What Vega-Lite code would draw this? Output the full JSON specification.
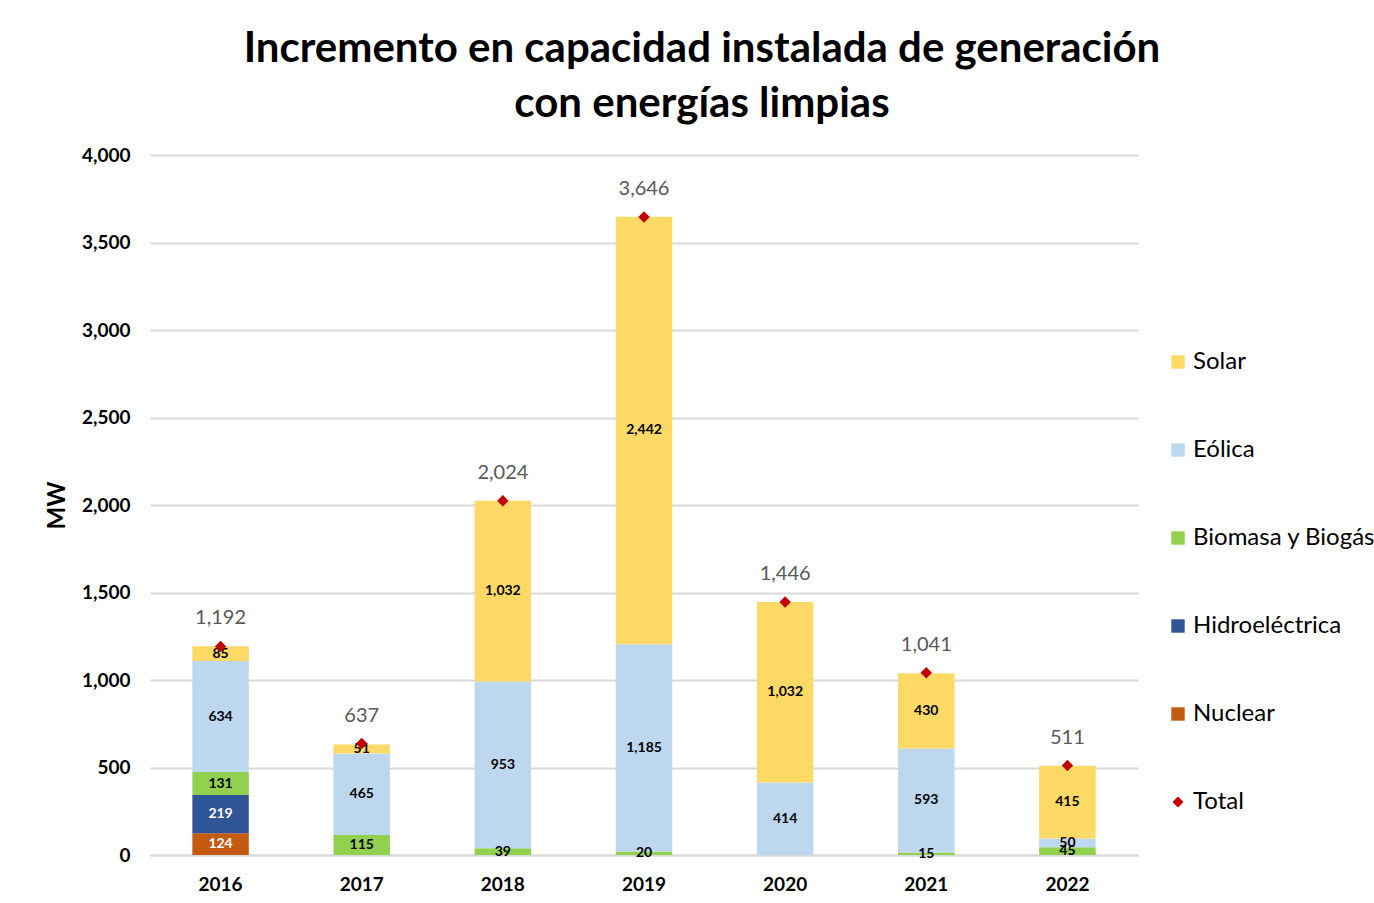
{
  "$schema": "https://vega.github.io/schema/vega-lite/v6.json",
  "width": 988,
  "height": 700,
  "autosize": {"type": "none"},
  "padding": {"left": 150, "top": 155, "right": 236, "bottom": 48},
  "background": "white",
  "config": {"view": {"stroke": null}, "font": "Lato"},
  "title": {
    "text": ["Incremento en capacidad instalada de generación", "con energías limpias"],
    "anchor": "middle",
    "dx": 58,
    "offset": 20,
    "font": "Lato",
    "fontSize": 42,
    "fontWeight": "bold",
    "color": "#000000",
    "lineHeight": 55
  },
  "datasets": {
    "seg": [
      {"year": "2016", "tipo": "Nuclear", "mw": 124},
      {"year": "2016", "tipo": "Hidroeléctrica", "mw": 219},
      {"year": "2016", "tipo": "Biomasa y Biogás", "mw": 131},
      {"year": "2016", "tipo": "Eólica", "mw": 634},
      {"year": "2016", "tipo": "Solar", "mw": 85},
      {"year": "2017", "tipo": "Biomasa y Biogás", "mw": 115},
      {"year": "2017", "tipo": "Eólica", "mw": 465},
      {"year": "2017", "tipo": "Solar", "mw": 51},
      {"year": "2018", "tipo": "Biomasa y Biogás", "mw": 39},
      {"year": "2018", "tipo": "Eólica", "mw": 953},
      {"year": "2018", "tipo": "Solar", "mw": 1032},
      {"year": "2019", "tipo": "Biomasa y Biogás", "mw": 20},
      {"year": "2019", "tipo": "Eólica", "mw": 1185},
      {"year": "2019", "tipo": "Solar", "mw": 2442},
      {"year": "2020", "tipo": "Eólica", "mw": 414},
      {"year": "2020", "tipo": "Solar", "mw": 1032},
      {"year": "2021", "tipo": "Biomasa y Biogás", "mw": 15},
      {"year": "2021", "tipo": "Eólica", "mw": 593},
      {"year": "2021", "tipo": "Solar", "mw": 430},
      {"year": "2022", "tipo": "Biomasa y Biogás", "mw": 45},
      {"year": "2022", "tipo": "Eólica", "mw": 50},
      {"year": "2022", "tipo": "Solar", "mw": 415}
    ],
    "tot": [
      {"year": "2016", "total": 1192},
      {"year": "2017", "total": 637},
      {"year": "2018", "total": 2024},
      {"year": "2019", "total": 3646},
      {"year": "2020", "total": 1446},
      {"year": "2021", "total": 1041},
      {"year": "2022", "total": 511}
    ]
  },
  "encoding": {
    "x": {
      "field": "year",
      "type": "ordinal",
      "scale": {"paddingInner": 0.6, "paddingOuter": 0.3},
      "axis": {
        "title": null,
        "labelAngle": 0,
        "labelFont": "Lato",
        "labelFontSize": 19,
        "labelFontWeight": "bold",
        "labelColor": "#000000",
        "labelPadding": 20,
        "ticks": false,
        "domainColor": "#d9d9d9",
        "domainWidth": 2
      }
    }
  },
  "layer": [
    {
      "data": {"name": "seg"},
      "transform": [
        {"calculate": "indexof(['Nuclear','Hidroeléctrica','Biomasa y Biogás','Eólica','Solar'], datum.tipo)", "as": "ord"},
        {"stack": "mw", "groupby": ["year"], "sort": [{"field": "ord", "order": "ascending"}], "as": ["y0", "y1"]},
        {"calculate": "(datum.y0 + datum.y1) / 2", "as": "ymid"}
      ],
      "layer": [
        {
          "mark": {"type": "bar"},
          "encoding": {
            "y": {
              "field": "y0",
              "type": "quantitative",
              "scale": {"domain": [0, 4000], "nice": false},
              "axis": {
                "title": "MW",
                "titleFont": "Lato",
                "titleFontSize": 24,
                "titleFontWeight": "bold",
                "titleColor": "#000000",
                "titlePadding": 12,
                "values": [0, 500, 1000, 1500, 2000, 2500, 3000, 3500, 4000],
                "format": ",.0f",
                "labelFont": "Lato",
                "labelFontSize": 19,
                "labelFontWeight": "bold",
                "labelColor": "#000000",
                "labelPadding": 20,
                "ticks": false,
                "domain": false,
                "gridColor": "#d9d9d9",
                "gridWidth": 2
              }
            },
            "y2": {"field": "y1"},
            "color": {
              "field": "tipo",
              "type": "nominal",
              "scale": {
                "domain": ["Solar", "Eólica", "Biomasa y Biogás", "Hidroeléctrica", "Nuclear", "Total"],
                "range": ["#FFD966", "#BDD7EE", "#92D050", "#2F5597", "#C55A11", "#C00000"]
              },
              "legend": {
                "title": null,
                "orient": "none",
                "legendX": 1016,
                "legendY": 195,
                "padding": 0,
                "rowPadding": 64,
                "labelFont": "Lato",
                "labelFontSize": 24,
                "labelColor": "#000000",
                "labelOffset": 3,
                "symbolSize": 180,
                "labelLimit": 400,
                "encode": {
                  "symbols": {
                    "update": {
                      "shape": {"signal": "datum.value === 'Total' ? 'diamond' : 'square'"},
                      "size": {"signal": "datum.value === 'Total' ? 120 : 180"},
                      "fill": {"scale": "color", "field": "value"},
                      "stroke": {"value": "transparent"},
                      "opacity": {"value": 1}
                    }
                  }
                }
              }
            }
          }
        },
        {
          "mark": {"type": "text", "font": "Lato", "fontSize": 14, "fontWeight": "bold", "baseline": "middle"},
          "encoding": {
            "y": {"field": "ymid", "type": "quantitative"},
            "text": {"field": "mw", "type": "quantitative", "format": ","},
            "color": {
              "condition": {"test": "datum.tipo === 'Hidroeléctrica' || datum.tipo === 'Nuclear'", "value": "#ffffff"},
              "value": "#000000"
            }
          }
        }
      ]
    },
    {
      "data": {"name": "tot"},
      "layer": [
        {
          "mark": {"type": "point", "shape": "diamond", "filled": true, "size": 130, "opacity": 1},
          "encoding": {
            "y": {"field": "total", "type": "quantitative"},
            "color": {"datum": "Total"}
          }
        },
        {
          "mark": {"type": "text", "font": "Lato", "fontSize": 20, "color": "#595959", "baseline": "middle", "dy": -28},
          "encoding": {
            "y": {"field": "total", "type": "quantitative"},
            "text": {"field": "total", "type": "quantitative", "format": ","}
          }
        }
      ]
    }
  ]
}
